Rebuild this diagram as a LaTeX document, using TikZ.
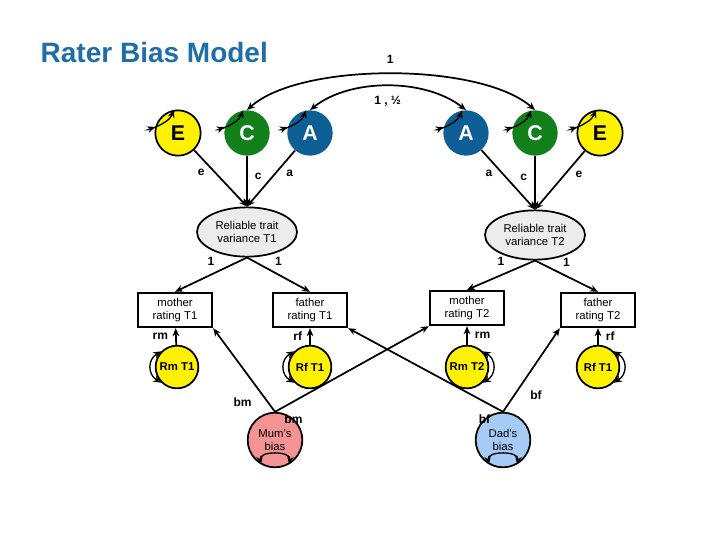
\documentclass[tikz,border=0pt]{standalone}
\usepackage{fontspec}
\setmainfont{Liberation Sans}
\usetikzlibrary{arrows.meta,shapes.geometric}
\definecolor{tblue}{HTML}{1F6EA6}
\definecolor{ablue}{HTML}{0D5E94}
\definecolor{cgreen}{HTML}{11801A}
\definecolor{eyel}{HTML}{FFF200}
\definecolor{mumc}{HTML}{F49393}
\definecolor{dadc}{HTML}{A6CCF5}
\begin{document}
\begin{tikzpicture}[x=0.75pt,y=-0.75pt,
  >={Stealth[length=6pt,width=5pt]},
  lat/.style={circle,minimum size=34pt,inner sep=0pt,font=\bfseries\fontsize{16}{16}\selectfont},
  E/.style={lat,fill=eyel,draw=black,line width=1.3pt},
  C/.style={lat,fill=cgreen,text=white},
  A/.style={lat,fill=ablue,text=white},
  ell/.style={ellipse,draw,line width=1.3pt,fill=gray!15,minimum width=75pt,minimum height=37pt,inner sep=0pt,align=center,font=\fontsize{8.5}{10}\selectfont},
  box/.style={rectangle,draw,line width=1.3pt,minimum width=56pt,minimum height=26pt,inner sep=1pt,align=center,font=\fontsize{8.5}{10}\selectfont},
  sm/.style={circle,draw,line width=1.3pt,fill=eyel,minimum size=32pt,inner sep=0pt,font=\bfseries\fontsize{8.5}{10}\selectfont},
  bias/.style={circle,draw,line width=1.3pt,minimum size=41pt,inner sep=0pt,align=center,font=\fontsize{8.5}{10}\selectfont},
  lab/.style={font=\fontsize{9}{10}\selectfont},
  path/.style={->,line width=1.3pt},
  self/.style={<->,line width=1pt}]
\useasboundingbox (0,0) rectangle (720,540);
\node[anchor=west,text=tblue,font=\bfseries\fontsize{21}{24}\selectfont] (title) at (36,52) {Rater Bias Model};
\node[E] (E1) at (178,133) {E};
\node[C] (C1) at (247,133) {C};
\node[A] (A1) at (310,133) {A};
\node[A] (A2) at (466,133) {A};
\node[C] (C2) at (535,133) {C};
\node[E] (E2) at (600,133) {E};
\node[ell] (R1) at (247,232) {Reliable trait\\variance T1};
\node[ell] (R2) at (535,235) {Reliable trait\\variance T2};
\node[box] (M1) at (175,310) {mother\\rating T1};
\node[box] (F1) at (310,310) {father\\rating T1};
\node[box] (M2) at (467,308) {mother\\rating T2};
\node[box] (F2) at (598,310) {father\\rating T2};
\node[sm] (RM1) at (177,367) {Rm T1};
\node[sm] (RF1) at (310,367) {Rf T1};
\node[sm] (RM2) at (467,367) {Rm T2};
\node[sm] (RF2) at (598,367) {Rf T1};
\node[bias,fill=mumc] (MB) at (275,440) {Mum's\\bias};
\node[bias,fill=dadc] (DB) at (503,440) {Dad's\\bias};
% top arcs
\draw[<->,line width=1.3pt] (C1.north) .. controls (300,62) and (480,62) .. (C2.north) node[pos=0.5,above=4pt,lab]{\bfseries 1};
\draw[<->,line width=1.3pt] (A1.north) .. controls (350,78) and (425,78) .. (A2.north) node[pos=0.5,below=4pt,lab]{\bfseries 1 , ½};
% self loops top
\foreach \n in {E1,C1,A1,A2,C2,E2}
  \draw[self] (\n.100) .. controls +(110:16) and +(160:16) .. (\n.165);
\foreach \n in {RM1,RF1}
  \draw[self] (\n.135) .. controls +(150:16) and +(210:16) .. (\n.225);
\foreach \n in {RM2,RF2}
  \draw[self] (\n.45) .. controls +(30:16) and +(-30:16) .. (\n.-45);
\foreach \n in {MB,DB}
  \draw[self] (\n.240) .. controls +(260:14) and +(280:14) .. (\n.300);
% paths
\draw[path] (E1) -- (R1.north) node[lab,pos=0.4,left=4pt]{\bfseries e};
\draw[path] (C1) -- (R1.north) node[lab,pos=0.4,right=2pt]{\bfseries c};
\draw[path] (A1) -- (R1.north) node[lab,pos=0.4,right=4pt]{\bfseries a};
\draw[path] (A2) -- (R2.north) node[lab,pos=0.4,left=4pt]{\bfseries a};
\draw[path] (C2) -- (R2.north) node[lab,pos=0.4,left=2pt]{\bfseries c};
\draw[path] (E2) -- (R2.north) node[lab,pos=0.4,right=4pt]{\bfseries e};
\draw[path] (R1.south) -- (M1.north) node[lab,pos=0.5,above=3pt]{\bfseries 1};
\draw[path] (R1.south) -- (F1.north) node[lab,pos=0.5,above=3pt]{\bfseries 1};
\draw[path] (R2.south) -- (M2.north) node[lab,pos=0.5,above=3pt]{\bfseries 1};
\draw[path] (R2.south) -- (F2.north) node[lab,pos=0.5,above=3pt]{\bfseries 1};
\draw[path] (RM1) -- (M1) node[lab,pos=0.5,left=2pt]{\bfseries rm};
\draw[path] (RF1) -- (F1) node[lab,pos=0.5,left=2pt]{\bfseries rf};
\draw[path] (RM2) -- (M2) node[lab,pos=0.5,right=2pt]{\bfseries rm};
\draw[path] (RF2) -- (F2) node[lab,pos=0.5,right=2pt]{\bfseries rf};
\draw[path] (MB.north) -- (M1.south east) node[lab,pos=0.12,left=8pt]{\bfseries bm};
\draw[path] (MB.north) -- (M2.south west) node[lab,pos=0.12,below=6pt]{\bfseries bm};
\draw[path] (DB.north) -- (F1.south east) node[lab,pos=0.12,below=6pt]{\bfseries bf};
\draw[path] (DB.north) -- (F2.south west) node[lab,pos=0.2,right=8pt]{\bfseries bf};
\end{tikzpicture}
\end{document}
